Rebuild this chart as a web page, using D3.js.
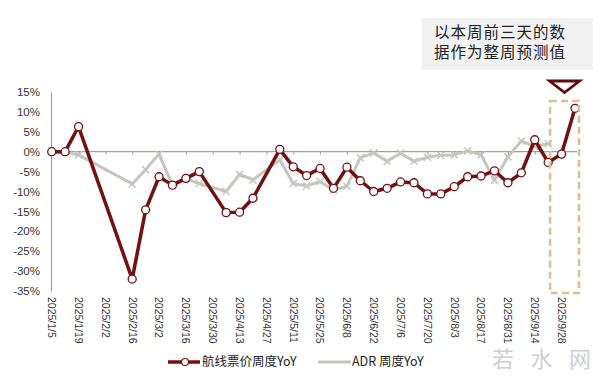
<html>
<head>
  <meta charset="utf-8">
  <style>
    body {
      margin: 0;
      background: #fff;
      font-family: "Liberation Sans", Arial, sans-serif;
    }
    .ylab, .xlab {
      fill: #333;
    }
    .note {
      font-family: "Noto Sans CJK SC", sans-serif;
      font-size: 15.5px;
      fill: #222;
      letter-spacing: 1px;
    }
    .legend {
      font-family: "Noto Sans CJK SC", "Liberation Sans", sans-serif;
      font-size: 12.5px;
      fill: #222;
    }
  </style>
</head>
<body>
  <div id="chart"></div>
  <script src="https://cdn.jsdelivr.net/npm/d3@7"></script>
  <script>
    // weekly dates (x categories)
    let weeks = ["2025/1/5", "2025/1/12", "2025/1/19", "2025/1/26", "2025/2/2", "2025/2/9",
      "2025/2/16", "2025/2/23", "2025/3/2", "2025/3/9", "2025/3/16", "2025/3/23",
      "2025/3/30", "2025/4/6", "2025/4/13", "2025/4/20", "2025/4/27", "2025/5/4",
      "2025/5/11", "2025/5/18", "2025/5/25", "2025/6/1", "2025/6/8", "2025/6/15",
      "2025/6/22", "2025/6/29", "2025/7/6", "2025/7/13", "2025/7/20", "2025/7/27",
      "2025/8/3", "2025/8/10", "2025/8/17", "2025/8/24", "2025/8/31", "2025/9/7",
      "2025/9/14", "2025/9/21", "2025/9/28", "2025/10/5"];

    // 航线票价周度YoY (%)
    let fare = [0, 0, 6.3, null, null, null, -32, -14.6, -6.3, -8.4, -6.7, -5,
      null, -15.3, -15.2, -11.7, null, 0.6, -3.8, -6, -4.2, -9.2, -3.9, -7.3,
      -10, -9.2, -7.6, -7.8, -10.6, -10.6, -8.8, -6.3, -6.1, -4.8, -7.8, -5.3,
      3, -2.7, -0.6, 10.9];

    // ADR 周度YoY (%)
    let adr = [0, -0.2, -0.8, null, null, null, -8.1, -4.5, -0.6, -8.4, -6.8, -8,
      null, -10, -5.7, -7.1, null, -2.1, -8, -8.6, -7.5, -9.6, -8.7, -1.5,
      -0.3, -2.4, -0.4, -2.4, -1.4, -0.9, -0.8, 0.2, -0.8, -7.2, -1.3, 2.7,
      1.3, 2, null, null];

    let yTicks = [15, 10, 5, 0, -5, -10, -15, -20, -25, -30, -35];
    let seriesNames = ["航线票价周度YoY", "ADR 周度YoY"];
    let noteLines = ["以本周前三天的数", "据作为整周预测值"];
    let markChars = ["若", "水", "网"];

    let width = 600, height = 376;
    let fareColor = "#751012";
    let adrColor = "#c6c6bf";

    let svg = d3.select("#chart").append("svg")
      .attr("width", width)
      .attr("height", height);

    let x = d3.scalePoint()
      .domain(weeks)
      .range([51.7, 575]);

    let y = d3.scaleLinear()
      .domain([-35, 15])
      .range([291, 92]);

    // y axis
    let yAxis = svg.append("g")
      .attr("transform", "translate(51,0)")
      .call(d3.axisLeft(y).tickValues(yTicks).tickSize(0).tickPadding(11)
        .tickFormat(d => d + "%"));
    yAxis.select(".domain").attr("stroke", "#a0a0a0").attr("stroke-width", 1.2);
    yAxis.selectAll("text")
      .attr("class", "ylab")
      .style("font-size", "11.5px")
      .style("font-family", "'Liberation Sans', Arial, sans-serif");

    // x axis line sits at 0%
    let labelWeeks = weeks.filter((d, i) => i % 2 === 0);
    let xAxis = svg.append("g")
      .attr("transform", "translate(0," + y(0) + ")")
      .call(d3.axisBottom(x).tickValues(labelWeeks).tickSize(3).tickSizeOuter(0)
        .tickFormat(""));
    xAxis.select(".domain")
      .attr("stroke", "#a0a0a0").attr("stroke-width", 1.2)
      .attr("d", "M51,0H577");
    xAxis.selectAll(".tick line").attr("stroke", "#a0a0a0");

    // rotated date labels below plot
    svg.append("g")
      .selectAll("text")
      .data(labelWeeks)
      .enter().append("text")
      .attr("class", "xlab")
      .attr("transform", d => "translate(" + x(d) + ",297) rotate(90)")
      .attr("dy", "0.35em")
      .style("font-size", "10.5px")
      .text(d => d);

    // lines
    let line = d3.line()
      .x(d => x(d.w))
      .y(d => y(d.v));

    let fareData = weeks.map((w, i) => ({ w: w, v: fare[i] })).filter(d => d.v !== null);
    let adrData = weeks.map((w, i) => ({ w: w, v: adr[i] })).filter(d => d.v !== null);

    svg.append("path")
      .datum(adrData)
      .attr("fill", "none")
      .attr("stroke", adrColor)
      .attr("stroke-width", 3)
      .attr("stroke-linejoin", "round")
      .attr("d", line);

    // ADR x-markers
    svg.append("g")
      .selectAll("path")
      .data(adrData)
      .enter().append("path")
      .attr("transform", d => "translate(" + x(d.w) + "," + y(d.v) + ")")
      .attr("d", "M-3.5,-3.5L3.5,3.5M-3.5,3.5L3.5,-3.5")
      .attr("stroke", adrColor)
      .attr("stroke-width", 1.5);

    svg.append("path")
      .datum(fareData)
      .attr("fill", "none")
      .attr("stroke", fareColor)
      .attr("stroke-width", 3.5)
      .attr("stroke-linejoin", "round")
      .attr("d", line);

    svg.append("g")
      .selectAll("circle")
      .data(fareData)
      .enter().append("circle")
      .attr("cx", d => x(d.w))
      .attr("cy", d => y(d.v))
      .attr("r", 4)
      .attr("fill", "#fff")
      .attr("stroke", fareColor)
      .attr("stroke-width", 1.3);

    // dashed box round the last two weeks
    let boxL = x(weeks[38]) - 11.5, boxR = x(weeks[39]) + 4;
    svg.append("rect")
      .attr("x", boxL)
      .attr("y", 101)
      .attr("width", boxR - boxL)
      .attr("height", 192)
      .attr("fill", "none")
      .attr("stroke", "#d8bf98")
      .attr("stroke-width", 2.5)
      .attr("stroke-dasharray", "7,4");

    // down triangle marker
    let cx = (boxL + boxR) / 2;
    svg.append("path")
      .attr("d", "M" + (cx - 15) + ",81L" + (cx + 15) + ",81L" + cx + ",92.5Z")
      .attr("fill", "#fff")
      .attr("stroke", "#5e0c0e")
      .attr("stroke-width", 2.8)
      .attr("stroke-linejoin", "miter");

    // note box
    svg.append("rect")
      .attr("x", 422)
      .attr("y", 18)
      .attr("width", 171)
      .attr("height", 52)
      .attr("fill", "#f2f2f2");
    svg.append("g")
      .selectAll("text")
      .data(noteLines)
      .enter().append("text")
      .attr("class", "note")
      .attr("x", 434)
      .attr("y", (d, i) => 38 + i * 20)
      .text(d => d);

    // legend
    let legend = svg.append("g").attr("class", "legend");
    legend.append("line")
      .attr("x1", 168).attr("x2", 200).attr("y1", 362).attr("y2", 362)
      .attr("stroke", fareColor).attr("stroke-width", 3.5);
    legend.append("circle")
      .attr("cx", 185).attr("cy", 362).attr("r", 3.5)
      .attr("fill", "#fff").attr("stroke", fareColor).attr("stroke-width", 1.2);
    legend.append("text")
      .attr("x", 202).attr("y", 362).attr("dy", "0.35em")
      .text(seriesNames[0]);
    legend.append("line")
      .attr("x1", 318).attr("x2", 351).attr("y1", 362).attr("y2", 362)
      .attr("stroke", adrColor).attr("stroke-width", 3);
    legend.append("text")
      .attr("x", 352).attr("y", 362).attr("dy", "0.35em")
      .text(seriesNames[1]);

    // watermark
    svg.append("g")
      .selectAll("text")
      .data(markChars)
      .enter().append("text")
      .attr("x", (d, i) => 503 + i * 38.5)
      .attr("y", 367)
      .attr("text-anchor", "middle")
      .attr("fill", "#cfcfcf")
      .style("font-family", "'Noto Sans CJK SC', sans-serif")
      .style("font-size", "22px")
      .text(d => d);
  </script>
</body>
</html>
